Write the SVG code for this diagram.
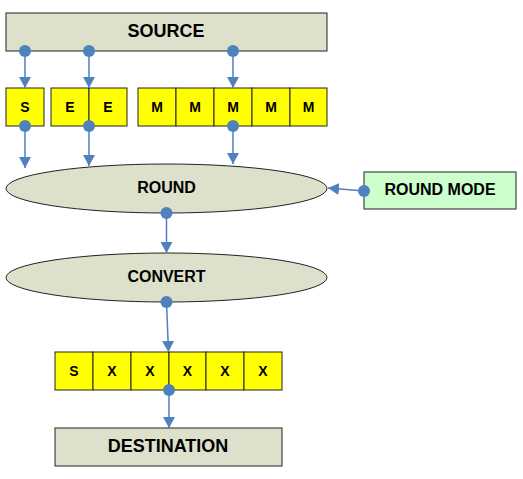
<svg xmlns="http://www.w3.org/2000/svg" width="523" height="479" viewBox="0 0 523 479">
<style>
.gray{fill:#dde0cb;stroke:#222;stroke-width:1}
.yel{fill:#ffff00;stroke:#222;stroke-width:1}
.grn{fill:#ccffcc;stroke:#222;stroke-width:1}
text{font-family:"Liberation Sans",Arial,sans-serif;font-weight:bold;fill:#000;text-anchor:middle}
.big{font-size:18px}
.mid{font-size:16px}
.sm{font-size:14px}
.conn line{stroke:#4f81bd;stroke-width:1.5;marker-end:url(#arr)}
.conn circle{fill:#4f81bd}
</style>
<defs>
<marker id="arr" markerWidth="12" markerHeight="12" viewBox="0 0 12 12" refX="11" refY="6" orient="auto" markerUnits="userSpaceOnUse">
<path d="M0,0 L11,6 L0,12 Z" fill="#4f81bd"/>
</marker>
</defs>
<rect width="523" height="479" fill="#fff"/>
<g id="source"><rect class="gray" x="6" y="13" width="321" height="38"/><text class="big" x="166" y="37">SOURCE</text></g>
<g id="sign"><rect class="yel" x="6" y="88" width="38" height="38"/><text class="sm" x="25" y="112">S</text></g>
<g id="exponent"><rect class="yel" x="51" y="88" width="38" height="38"/><rect class="yel" x="89" y="88" width="38" height="38"/><text class="sm" x="70" y="112">E</text><text class="sm" x="108" y="112">E</text></g>
<g id="mantissa"><rect class="yel" x="138" y="88" width="38" height="38"/><rect class="yel" x="176" y="88" width="38" height="38"/><rect class="yel" x="214" y="88" width="38" height="38"/><rect class="yel" x="252" y="88" width="38" height="38"/><rect class="yel" x="290" y="88" width="37" height="38"/>
<text class="sm" x="157" y="112">M</text><text class="sm" x="195" y="112">M</text><text class="sm" x="233" y="112">M</text><text class="sm" x="271" y="112">M</text><text class="sm" x="308.5" y="112">M</text></g>
<g id="round"><ellipse class="gray" cx="166.5" cy="188.5" rx="160.5" ry="24.5"/><text class="mid" x="166.5" y="193">ROUND</text></g>
<g id="roundmode"><rect class="grn" x="364" y="172" width="152" height="37"/><text class="mid" x="440" y="195">ROUND MODE</text></g>
<g id="convert"><ellipse class="gray" cx="166.5" cy="277.5" rx="160.5" ry="24.5"/><text class="mid" x="166.5" y="282">CONVERT</text></g>
<g id="result"><rect class="yel" x="55" y="352" width="38" height="38"/><rect class="yel" x="93" y="352" width="38" height="38"/><rect class="yel" x="131" y="352" width="38" height="38"/><rect class="yel" x="169" y="352" width="37" height="38"/><rect class="yel" x="206" y="352" width="38" height="38"/><rect class="yel" x="244" y="352" width="38" height="38"/>
<text class="sm" x="74" y="376">S</text><text class="sm" x="112" y="376">X</text><text class="sm" x="150" y="376">X</text><text class="sm" x="187.5" y="376">X</text><text class="sm" x="225" y="376">X</text><text class="sm" x="263" y="376">X</text></g>
<g id="destination"><rect class="gray" x="55" y="428" width="227" height="38"/><text class="big" x="168" y="452">DESTINATION</text></g>
<g id="connectors" class="conn">
<line x1="25" y1="51" x2="25" y2="88"/><circle cx="25" cy="51" r="6"/>
<line x1="89" y1="51" x2="89" y2="88"/><circle cx="89" cy="51" r="6"/>
<line x1="233" y1="51" x2="233" y2="88"/><circle cx="233" cy="51" r="6"/>
<line x1="25" y1="126" x2="25" y2="168"/><circle cx="25" cy="126" r="6"/>
<line x1="89" y1="126" x2="89" y2="166"/><circle cx="89" cy="126" r="6"/>
<line x1="233" y1="126" x2="233" y2="164"/><circle cx="233" cy="126" r="6"/>
<line x1="364" y1="191" x2="328" y2="188"/><circle cx="364" cy="191" r="6"/>
<line x1="166.5" y1="213" x2="166.5" y2="253"/><circle cx="166.5" cy="213" r="6"/>
<line x1="166.5" y1="302" x2="168.5" y2="352"/><circle cx="166.5" cy="302" r="6"/>
<line x1="169" y1="390" x2="169" y2="428"/><circle cx="169" cy="390" r="6"/>
</g>
</svg>
